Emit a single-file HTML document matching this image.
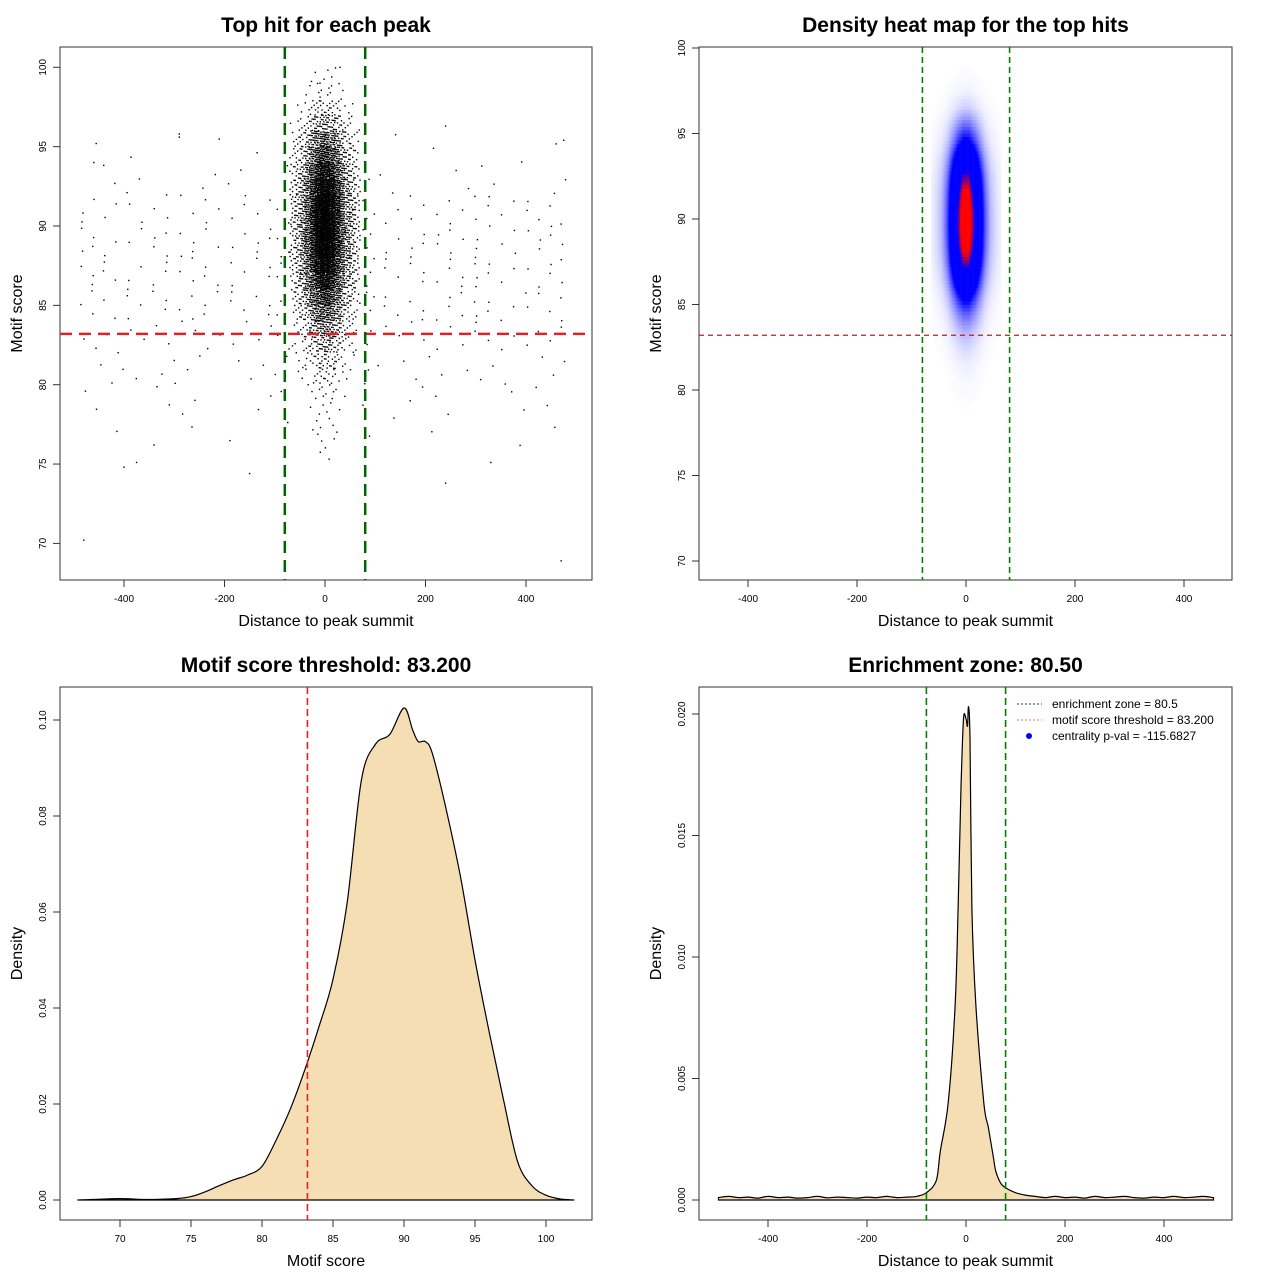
<!DOCTYPE html>
<html><head><meta charset="utf-8">
<style>
html,body{margin:0;padding:0;background:#fff;}
svg{display:block;font-family:"Liberation Sans",Arial,sans-serif;}
</style></head>
<body>
<svg id="chart" width="1280" height="1280" viewBox="0 0 1280 1280" xmlns="http://www.w3.org/2000/svg">
<rect x="0" y="0" width="1280" height="1280" fill="#fff"/>
<g id="p1"></g>
<g id="p2"></g>
<g id="p3"></g>
<g id="p4"></g>
</svg>
<script>
// ---- data ----
const coreYBins = [75,76,77,78,79,80,81,82,83,84,85,86,87,88,89,90,91,92,93,94,95,96,97,98,99];
const coreRowCounts = [3,4,6,8,13,24,40,70,110,170,250,350,430,480,500,495,470,420,340,240,160,80,35,14,5];
const coreXBins = [-70,-60,-50,-40,-30,-20,-10,0,10,20,30,40,50,60];
const coreColWeights = [0.012,0.022,0.035,0.06,0.1,0.14,0.17,0.17,0.14,0.1,0.06,0.035,0.022,0.012];
const bgYBins = [74,76,78,80,82,84,86,88,90,92,94];
const bgRowCounts = [3,9,16,26,40,50,55,55,45,22,6];
const bgXStarts = [-490,-400,-300,-200,-100,70,100,200,300,400];
const bgXWidths = [90,100,100,100,30,30,100,100,100,90];
const bgColWeights = [0.1,0.11,0.11,0.11,0.06,0.06,0.11,0.11,0.11,0.1];
const outliers = [[-480,70.2],[470,68.9],[-290,95.8],[-290,95.6],[240,96.3],[475,95.4],[-150,74.4],[-400,74.8],[-375,75.1],[240,73.8],[330,75.1],[-460,94.0],[30,100],[-10,99]];
const scoreX = [67,68,70,72,74,75,76,77,78,79,80,81,82,83,84,85,86,87,88,89,90,90.6,91,91.5,92,93,94,95,96,97,98,99,100,101,102];
const scoreD = [0,0.0001,0.0003,0.0001,0.0003,0.0007,0.0017,0.003,0.0042,0.0052,0.007,0.0125,0.019,0.027,0.036,0.046,0.062,0.0875,0.095,0.097,0.1025,0.098,0.0955,0.0955,0.093,0.081,0.067,0.05,0.035,0.021,0.008,0.003,0.001,0.0002,0];
const distX = [-500,-480,-460,-440,-420,-400,-380,-360,-340,-320,-300,-280,-260,-240,-220,-200,-180,-160,-140,-120,-100,-80,-60,-52,-36,-22,-16,-10,-5,0,3,5,8,12,20,36,45,55,60,70,80,100,120,140,160,180,200,220,240,260,280,300,320,340,360,380,400,420,440,460,480,500];
const distD = [0.0001,0.00015,0.0001,0.00012,0.00008,0.00015,0.0001,0.00012,0.00008,0.0001,0.00015,0.00009,0.00012,0.0001,0.00008,0.00012,0.0001,0.00015,0.0001,0.00012,0.00015,0.0003,0.0008,0.002,0.004,0.008,0.012,0.017,0.0198,0.0198,0.0195,0.0203,0.019,0.012,0.008,0.004,0.003,0.0018,0.0012,0.0007,0.0005,0.0003,0.0002,0.00015,0.0001,0.00015,0.0001,0.00012,0.00008,0.00015,0.0001,0.00012,0.00015,0.0001,0.00008,0.00012,0.0001,0.00015,0.0001,0.00012,0.00015,0.0001];
const xTicksDist = [-400,-200,0,200,400];
const yTicksScore = [70,75,80,85,90,95,100];
const xTicksScore = [70,75,80,85,90,95,100];
const yTicksDens3 = [0,0.02,0.04,0.06,0.08,0.10];
const yTickLab3 = ["0.00","0.02","0.04","0.06","0.08","0.10"];
const yTicksDens4 = [0,0.005,0.010,0.015,0.020];
const yTickLab4 = ["0.000","0.005","0.010","0.015","0.020"];
const threshold = 83.2;
const zone = 80;

// ---- scales ----
const x1=v=>325+v*0.5025, y1=v=>226-(v-90)*15.87;
const x2=v=>966+v*0.545, y2=v=>219-(v-90)*17.1;
const x3=v=>404+(v-90)*14.2, y3=v=>1200-v*4800;
const x4=v=>966+v*0.495, y4=v=>1200-v*24300;

const NS="http://www.w3.org/2000/svg";
function mk(parent,tag,attrs,text){const e=document.createElementNS(NS,tag);for(const k in attrs)e.setAttribute(k,attrs[k]);if(text!==undefined)e.textContent=text;parent.appendChild(e);return e;}
function frac(v){return v-Math.floor(v);}
function smoothPath(P){
  let d='M'+P[0][0].toFixed(1)+','+P[0][1].toFixed(1);
  for(let i=0;i<P.length-1;i++){
    const p0=P[Math.max(0,i-1)],p1=P[i],p2=P[i+1],p3=P[Math.min(P.length-1,i+2)];
    const c1=[p1[0]+(p2[0]-p0[0])/6,p1[1]+(p2[1]-p0[1])/6];
    const c2=[p2[0]-(p3[0]-p1[0])/6,p2[1]-(p3[1]-p1[1])/6];
    d+=` C${c1[0].toFixed(1)},${c1[1].toFixed(1)} ${c2[0].toFixed(1)},${c2[1].toFixed(1)} ${p2[0].toFixed(1)},${p2[1].toFixed(1)}`;
  }
  return d;
}

function frame(g,L,T,R,B,title,xlab,ylab){
  const r=mk(g,'rect',{x:L,y:T,width:R-L,height:B-T,fill:'none',stroke:'#333','stroke-width':1});
  
  
  const t=mk(g,'text',{x:(L+R)/2,y:T-15,'text-anchor':'middle','font-size':21,'font-weight':'bold'},title);
  
  
  const xl=mk(g,'text',{x:(L+R)/2,y:B+46,'text-anchor':'middle','font-size':16},xlab);
  
  
  const yl=mk(g,'text',{x:0,y:0,'text-anchor':'middle','font-size':16,transform:`translate(${L-38},${(T+B)/2}) rotate(-90)`},ylab);
  
  
}
function xTicks(g,ticks,labels,sx,B){
  mk(g,'line',{x1:sx(ticks[0]),x2:sx(ticks[ticks.length-1]),y1:B,y2:B,stroke:'#333'});
  ticks.forEach((t,i)=>{
    mk(g,'line',{x1:sx(t),x2:sx(t),y1:B,y2:B+7,stroke:'#333'});
    const l=mk(g,'text',{x:sx(t),y:B+22,'text-anchor':'middle','font-size':10},labels[i]);
    
    
  });
}
function yTicks(g,ticks,labels,sy,L){
  ticks.forEach((t,i)=>{
    mk(g,'line',{x1:L-7,x2:L,y1:sy(t),y2:sy(t),stroke:'#333'});
    const l=mk(g,'text',{x:0,y:0,'text-anchor':'middle','font-size':10,transform:`translate(${L-14},${sy(t)}) rotate(-90)`},labels[i]);
    
    
  });
}
function interp(xs,ys,v){
  if(v<=xs[0]||v>=xs[xs.length-1])return 0;
  for(let i=0;i<xs.length-1;i++){if(v>=xs[i]&&v<=xs[i+1]){const f=(v-xs[i])/(xs[i+1]-xs[i]);return ys[i]+f*(ys[i+1]-ys[i]);}}
  return 0;
}

// ---- panel 1: scatter ----
(function(){
  const g=document.getElementById('p1');
  frame(g,60,47,592,580,'Top hit for each peak','Distance to peak summit','Motif score');
  const pts=mk(g,'g',{fill:'#000'});
  
  
  let k=0;
  function cell(x0,w,y0,h,n){
    for(let m=0;m<n;m++){k++;
      const vx=x0+w*frac(k*0.7548776662+0.31), vy=y0+h*frac(k*0.5698402910+0.17);
      mk(pts,'rect',{x:x1(vx)-0.7,y:y1(vy)-0.7,width:1.4,height:1.4});
    }
  }
  coreRowCounts.forEach((c,i)=>coreColWeights.forEach((w,j)=>cell(coreXBins[j],10,coreYBins[i],1,Math.round(c*w))));
  bgRowCounts.forEach((c,i)=>bgColWeights.forEach((w,j)=>cell(bgXStarts[j],bgXWidths[j],bgYBins[i],2,Math.round(c*w))));
  outliers.forEach(p=>mk(pts,'rect',{x:x1(p[0])-0.7,y:y1(p[1])-0.7,width:1.4,height:1.4}));
  xTicks(g,xTicksDist,xTicksDist.map(String),x1,580);
  yTicks(g,yTicksScore,yTicksScore.map(String),y1,60);
  const h=mk(g,'line',{x1:60,x2:592,y1:y1(threshold),y2:y1(threshold),stroke:'#d62728','stroke-width':2.5,'stroke-dasharray':'12,7'});
  
  
  [-zone,zone].forEach(z=>{const v=mk(g,'line',{x1:x1(z),x2:x1(z),y1:47,y2:580,stroke:'#006400','stroke-width':2.5,'stroke-dasharray':'12,7'});
    
    });
})();

// ---- panel 2: heatmap ----
(function(){
  const g=document.getElementById('p2');
  const cellsG=mk(g,'g',{});
  
  
  const yc=coreYBins.map(v=>v+0.5), xc=coreXBins.map(v=>v+5);
  const maxR=Math.max(...coreRowCounts), maxC=Math.max(...coreColWeights);
  function col(t){
    let r,gg,b;
    if(t<0.45){const a=Math.pow(t/0.45,1.6);r=255*(1-a);gg=255*(1-a);b=255;}
    else if(t<0.8){r=0;gg=0;b=255;}
    else{const a=Math.min(1,(t-0.8)/0.12);r=255*a;gg=0;b=255*(1-a);}
    return `rgb(${r|0},${gg|0},${b|0})`;
  }
  for(let vx=-80;vx<80;vx+=2){for(let vy=72;vy<100;vy+=0.2){
    const d=interp(yc,coreRowCounts,vy+0.1)/maxR*interp(xc,coreColWeights,vx+1)/maxC;
    if(d<0.02)continue;
    mk(cellsG,'rect',{x:x2(vx),y:y2(vy+0.2),width:0.545*2+0.3,height:17.1*0.2+0.3,fill:col(d)});
  }}
  frame(g,699,47,1232,580,'Density heat map for the top hits','Distance to peak summit','Motif score');
  xTicks(g,xTicksDist,xTicksDist.map(String),x2,580);
  yTicks(g,yTicksScore,yTicksScore.map(String),y2,699);
  const h=mk(g,'line',{x1:699,x2:1232,y1:y2(threshold),y2:y2(threshold),stroke:'#b22222','stroke-width':1.2,'stroke-dasharray':'5,4'});
  
  
  [-zone,zone].forEach(z=>{const v=mk(g,'line',{x1:x2(z),x2:x2(z),y1:47,y2:580,stroke:'#008000','stroke-width':1.6,'stroke-dasharray':'6,4'});
    
    });
})();

// ---- panel 3: score density ----
(function(){
  const g=document.getElementById('p3');
  frame(g,60,687,592,1220,'Motif score threshold: 83.200','Motif score','Density');
  const P=scoreX.map((v,i)=>[x3(v),y3(scoreD[i])]);
  const p=mk(g,'path',{d:smoothPath(P)+' Z',fill:'#f5deb3',stroke:'#000','stroke-width':1.2});
  
  
  xTicks(g,xTicksScore,xTicksScore.map(String),x3,1220);
  yTicks(g,yTicksDens3,yTickLab3,y3,60);
  const v=mk(g,'line',{x1:x3(threshold),x2:x3(threshold),y1:687,y2:1220,stroke:'#e32222','stroke-width':1.6,'stroke-dasharray':'7,4'});
  
  
})();

// ---- panel 4: distance density ----
(function(){
  const g=document.getElementById('p4');
  frame(g,699,687,1232,1220,'Enrichment zone: 80.50','Distance to peak summit','Density');
  const P=distX.map((v,i)=>[x4(v),y4(distD[i])]);
  const p=mk(g,'path',{d:smoothPath(P)+' L'+x4(500)+','+y4(0)+' L'+x4(-500)+','+y4(0)+' Z',fill:'#f5deb3',stroke:'#000','stroke-width':1.2});
  
  
  xTicks(g,xTicksDist,xTicksDist.map(String),x4,1220);
  yTicks(g,yTicksDens4,yTickLab4,y4,699);
  [-zone,zone].forEach(z=>{const v=mk(g,'line',{x1:x4(z),x2:x4(z),y1:687,y2:1220,stroke:'#008000','stroke-width':1.6,'stroke-dasharray':'7,4'});
    
    });
  const lg=mk(g,'g',{'font-size':12});
  
  
  const items=[['enrichment zone = 80.5','#006400','line'],['motif score threshold = 83.200','#ff6666','line'],['centrality p-val = -115.6827','#0000ff','dot']];
  items.forEach((it,i)=>{
    const yy=704+i*16;
    const e=mk(lg,'g',{});
    
    
    if(it[2]==='line')mk(e,'line',{x1:1017,x2:1042,y1:yy,y2:yy,stroke:it[1],'stroke-width':1,'stroke-dasharray':'2,2'});
    else mk(e,'circle',{cx:1029,cy:yy,r:3,fill:it[1]});
    mk(e,'text',{x:1052,y:yy+4},it[0]);
  });
})();
</script>
</body></html>
